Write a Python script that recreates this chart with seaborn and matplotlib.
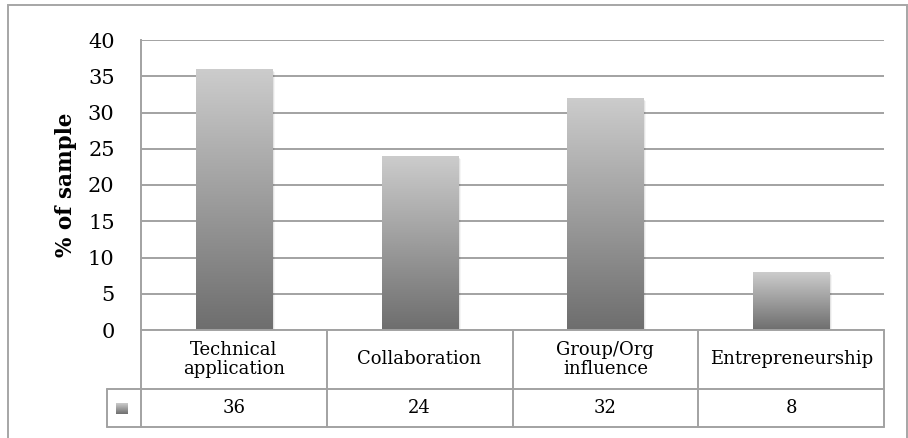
import numpy as np
import matplotlib
matplotlib.use("Agg")
import matplotlib.pyplot as plt
import matplotlib.transforms as mtransforms
from matplotlib.patches import Rectangle
from matplotlib.lines import Line2D
import seaborn as sns
import pandas as pd

# Chart data
categories = ["Technical\napplication", "Collaboration", "Group/Org\ninfluence", "Entrepreneurship"]
values = [36, 24, 32, 8]
yticks = [0, 5, 10, 15, 20, 25, 30, 35, 40]
ylabel = "% of sample"

sns.set_theme(style="white")
plt.rcParams["font.family"] = ["DejaVu Serif"]

W, H = 908, 438
fig = plt.figure(figsize=(W / 100, H / 100), dpi=100)
ax = fig.add_axes([141 / W, 1 - 330 / H, 743 / W, 290 / H])

df = pd.DataFrame({"category": categories, "value": values})
sns.barplot(data=df, x="category", y="value", ax=ax, width=0.41,
            color="#999999", saturation=1, zorder=3)

# vertical grey gradient: row 0 (top) light, last row (bottom) dark
grad = np.linspace(0, 1, 256)[:, None]
top = np.array([0.80, 0.80, 0.80])
bot = np.array([0.43, 0.43, 0.43])
img = top[None, None, :] * (1 - grad[..., None]) + bot[None, None, :] * grad[..., None]

for p in list(ax.patches):
    x0, y0 = p.get_x(), p.get_y()
    w, h = p.get_width(), p.get_height()
    p.set_facecolor("none")
    p.set_edgecolor("none")
    # soft drop shadow
    for k, a in enumerate([0.10, 0.07, 0.04]):
        off = mtransforms.offset_copy(ax.transData, fig=fig, x=1 + k, y=-(1 + k), units="dots")
        ax.add_patch(Rectangle((x0, y0), w, h, transform=off, facecolor="black",
                               edgecolor="none", alpha=a, zorder=2.5))
    ax.imshow(img, extent=[x0, x0 + w, y0, y0 + h], origin="upper", aspect="auto",
              zorder=3, interpolation="bilinear")

ax.set_xlim(-0.5, len(categories) - 0.5)
ax.set_ylim(0, 40)
ax.set_yticks(yticks)
ax.set_yticklabels([str(t) for t in yticks], fontsize=15, color="black")
ax.tick_params(axis="y", length=0, pad=19)
ax.set_xticks([])
ax.set_xlabel("")
ax.set_ylabel(ylabel, fontsize=15.5, fontweight="bold", color="black", labelpad=8)
ax.yaxis.grid(True, color="#a2a2a2", linewidth=1.4, zorder=1)
ax.set_axisbelow(True)
for s in ["top", "right", "bottom"]:
    ax.spines[s].set_visible(False)
ax.spines["left"].set_color("#a2a2a2")
ax.spines["left"].set_linewidth(1.4)

# data table below the plot
tr = mtransforms.blended_transform_factory(ax.transData, ax.transAxes)
row1 = -59 / 290
row2 = -97 / 290
key_left = -0.5 - 34 / 185.75
line_kw = dict(color="#a2a2a2", linewidth=1.4, transform=tr, clip_on=False, zorder=4)
n = len(categories)
ax.add_line(Line2D([-0.5, n - 0.5], [0, 0], **line_kw))
ax.add_line(Line2D([key_left, n - 0.5], [row1, row1], **line_kw))
ax.add_line(Line2D([key_left, n - 0.5], [row2, row2], **line_kw))
for xb in np.arange(n + 1) - 0.5:
    ax.add_line(Line2D([xb, xb], [0, row2], **line_kw))
ax.add_line(Line2D([key_left, key_left], [row1, row2], **line_kw))

for i, (c, v) in enumerate(zip(categories, values)):
    ax.text(i, row1 / 2, c, transform=tr, ha="center", va="center", fontsize=13,
            color="black", linespacing=1.1, clip_on=False)
    ax.text(i, (row1 + row2) / 2, str(v), transform=tr, ha="center", va="center",
            fontsize=13, color="black", clip_on=False)

# legend key swatch in the table's value row
kax = fig.add_axes([116 / W, 1 - 414 / H, 12 / W, 11 / H])
kax.imshow(img, extent=[0, 1, 0, 1], origin="upper", aspect="auto",
           interpolation="bilinear")
kax.axis("off")

# outer chart frame
fig.add_artist(Rectangle((7.5 / W, -0.05), (906.5 - 7.5) / W, 1.05 - 5.5 / H,
                         transform=fig.transFigure, fill=False,
                         edgecolor="#a6a6a6", linewidth=1.4))

fig.savefig("out.png", dpi=100, facecolor="white")
